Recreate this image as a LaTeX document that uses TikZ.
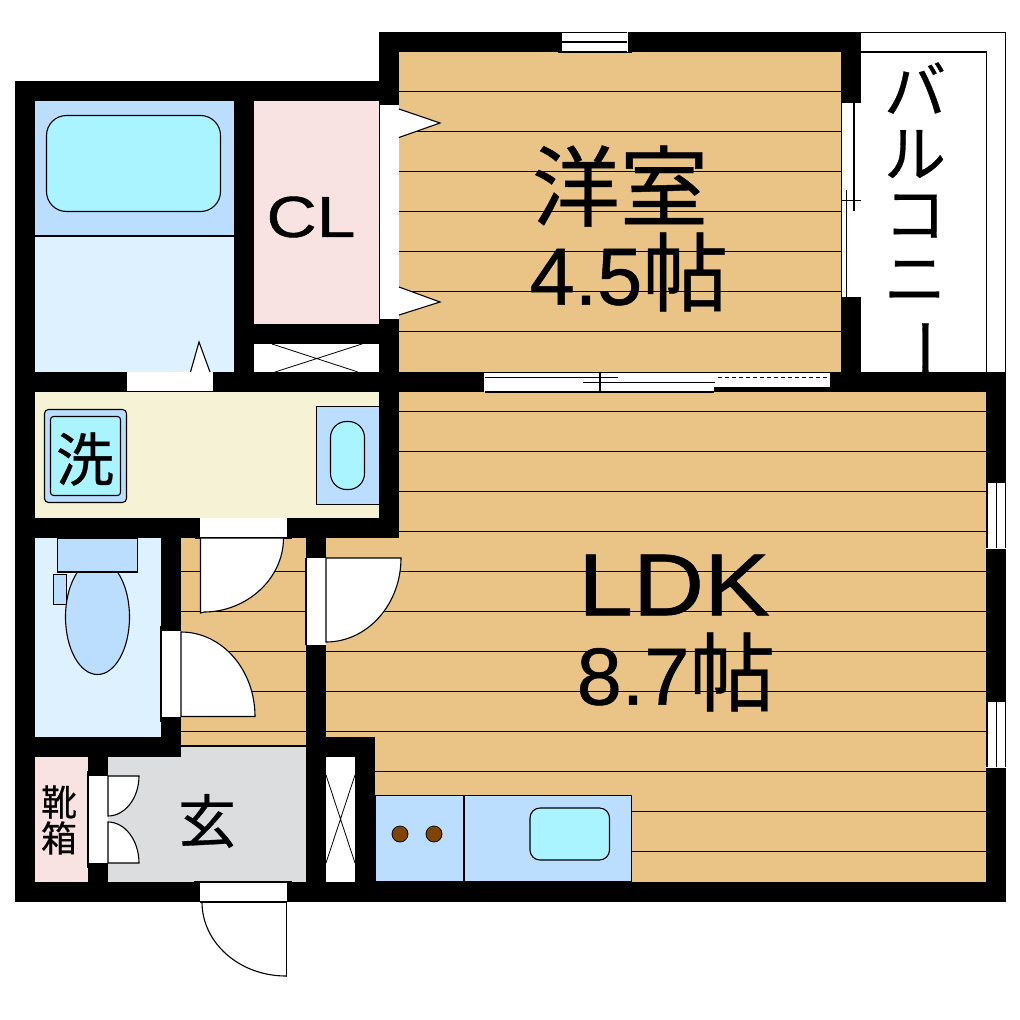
\documentclass[tikz,border=0pt]{standalone}
\usepackage{fontspec}
\setmainfont[FakeBold=0.7]{Liberation Sans}
\newfontfamily\jpfont[FakeBold=0.5]{Noto Sans CJK JP}
\definecolor{floorc}{HTML}{EAC387}
\definecolor{bluea}{HTML}{BBDEFF}
\definecolor{blueb}{HTML}{DDF1FF}
\definecolor{cyanc}{HTML}{AAF4FF}
\definecolor{pinkc}{HTML}{F8E2E2}
\definecolor{creamc}{HTML}{F5F2D6}
\definecolor{greyc}{HTML}{DCDDDF}
\definecolor{brownc}{HTML}{7F4500}
\tikzset{
  wall/.style={fill=black,draw=none},
  thin line/.style={draw=black,line width=1.1pt},
  opening/.style={fill=white,draw=none},
  doorleaf/.style={fill=white,draw=black,line width=1.1pt},
  fixture/.style={fill=bluea,draw=black,line width=1.1pt},
  basin/.style={fill=cyanc,draw=black,line width=1.1pt},
  lbl/.style={inner sep=0pt,outer sep=0pt,text=black},
}
\newcommand{\jlabel}[4]{\node[lbl,font=\jpfont\fontsize{#3}{#3}\selectfont] (#1) at (#2) {#4};}
\begin{document}
\begin{tikzpicture}[x=1pt,y=-1pt]
\useasboundingbox (0,0) rectangle (1020,1020);
% floors
\fill[floorc] (399,52) rectangle (841,372);
\fill[floorc] (399,392) rectangle (986,538);
\fill[floorc] (326,538) rectangle (986,882);
\fill[floorc] (181,538) rectangle (306,746);
\foreach \y in {91.5,131.5,171.5,211.5,251.5,291.5,331.5}
  \draw[thin line] (399,\y) -- (841,\y);
\foreach \y in {411.5,451.5,491.5,531.5}
  \draw[thin line] (399,\y) -- (986,\y);
\foreach \y in {571.5,611.5,651.5,691.5,731.5}{
  \draw[thin line] (326,\y) -- (986,\y);
  \draw[thin line] (181,\y) -- (306,\y);}
\draw[thin line] (375,771.5) -- (986,771.5);
\draw[thin line] (632,811.5) -- (986,811.5);
\draw[thin line] (632,851.5) -- (986,851.5);
% rooms
\fill[bluea] (35,101) rectangle (234,236);
\fill[blueb] (35,236) rectangle (234,372);
\draw[thin line] (35,236) -- (234,236);
\fill[pinkc] (254,101) rectangle (379,324);
\fill[white] (254,344) rectangle (379,372);
\fill[creamc] (35,392) rectangle (379,518);
\fill[blueb] (35,538) rectangle (161,737);
\fill[greyc] (108,746) rectangle (306,882);
\fill[pinkc] (35,757) rectangle (88,883);
\fill[white] (326,757) rectangle (355,882);
% walls
\fill[wall] (379,32) rectangle (861,52);
\fill[wall] (379,32) rectangle (399,105);
\fill[wall] (841,32) rectangle (861,392);
\fill[wall] (15,81) rectangle (399,101);
\fill[wall] (15,81) rectangle (35,902);
\fill[wall] (234,81) rectangle (254,392);
\fill[wall] (254,324) rectangle (399,344);
\fill[wall] (379,319) rectangle (399,538);
\fill[wall] (15,372) rectangle (1006,392);
\fill[wall] (986,372) rectangle (1006,902);
\fill[wall] (15,518) rectangle (399,538);
\fill[wall] (161,538) rectangle (181,757);
\fill[wall] (15,737) rectangle (181,757);
\fill[wall] (88,757) rectangle (108,882);
\fill[wall] (306,538) rectangle (326,882);
\fill[wall] (306,737) rectangle (375,757);
\fill[wall] (355,737) rectangle (375,882);
\fill[wall] (15,882) rectangle (1006,902);
% closet doors
\fill[opening] (380,105) rectangle (399,319);
\draw[thin line] (379.5,105) -- (379.5,319);
\draw[doorleaf] (399,109) -- (440,123) -- (399,137.5);
\draw[doorleaf] (399,287) -- (440,302) -- (399,315);
% top window
\fill[opening] (562,32) rectangle (628,52);
\draw[thin line] (562,32.5) -- (628,32.5) (562,42) -- (628,42) (558,52) -- (632,52);
\draw[white,line width=1pt] (627.5,32) -- (627.5,52);
% balcony window
\fill[opening] (841,103) rectangle (861,297);
\draw[thin line] (841.5,103) -- (841.5,297);
\draw[thin line] (854,103) -- (854,211);
\draw[thin line] (846.5,190) -- (846.5,297);
\draw[thin line] (841,200.5) -- (861,200.5);
% balcony
\draw[thin line] (861,32.5) -- (1005.5,32.5) -- (1005.5,372);
\draw[thin line] (861,52) -- (986.5,52) -- (986.5,372);
% sliding door
\fill[opening] (484,372.5) rectangle (830,387);
\fill[opening] (484,372.5) rectangle (714,392);
\draw[thin line] (485,377.5) -- (618,377.5);
\draw[thin line] (583,382.5) -- (715,382.5);
\draw[thin line] (600,372) -- (600,392);
\draw[thin line,dash pattern=on 4pt off 3pt] (718,377.5) -- (830,377.5);
\draw[thin line] (485,392) -- (714,392);
% east windows
\foreach \a/\b in {483/548,702/767}{
  \fill[opening] (986,\a) rectangle (1006,\b);
  \draw[thin line] (987,\a) -- (987,\b) (996.5,\a) -- (996.5,\b) (1005.5,\a) -- (1005.5,\b);
  \draw[white,line width=1pt] (986,\b) -- (1006,\b);
}
% bath
\draw[basin,rounded corners=20pt] (46.5,115.5) rectangle (220.5,211.5);
\fill[opening] (127,372) rectangle (213,392);
\draw[thin line] (121,391.7) -- (220,391.7);
\draw[doorleaf] (190.5,372) -- (199,342) -- (210,372);
% X closet
\draw[line width=.8pt] (272,344) -- (358,372) (362,344) -- (275,372);
% wash room
\draw[fixture,rounded corners=4pt] (44.5,409.5) rectangle (126.5,502.5);
\draw[basin,rounded corners=3pt] (50.5,416.5) rectangle (120.5,495.5);
\fill[bluea] (316.5,406.5) rectangle (379,504.5);
\draw[thin line] (379,406.5) -- (316.5,406.5) -- (316.5,504.5) -- (379,504.5);
\draw[basin,rounded corners=16pt] (330.5,421.5) rectangle (364.5,489.5);
% wash door
\fill[opening] (200,518) rectangle (287,538);
\draw[thin line] (195,538) -- (292,538);
\draw[doorleaf] (200.5,613) -- (200.5,538) -- (283.5,538) .. controls (283.5,579) and (246.3,612) .. (204,612) -- cycle;
% toilet
\draw[fixture] (97.5,617) ellipse[x radius=32,y radius=57.5];
\draw[fixture] (57.5,538) rectangle (137.5,572);
\draw[fixture] (53.5,574.5) rectangle (66.5,604.5);
% toilet door
\fill[opening] (161,631) rectangle (181,717);
\draw[thin line] (161,626) -- (161,722);
\draw[doorleaf] (181,716.5) -- (181,632) .. controls (222,632) and (255,669.8) .. (255,716.5) -- cycle;
% LDK door
\fill[opening] (306,558) rectangle (326,645);
\draw[thin line] (306,558) -- (306,645);
\draw[doorleaf] (326,558) -- (401,558) .. controls (401,604.4) and (367.4,642) .. (326,642) -- cycle;
% genkan
\draw[thin line] (181,746) -- (306,746);
\fill[opening] (88,776) rectangle (108,863);
\draw[thin line] (88,771) -- (88,868);
\draw[doorleaf] (108,776) -- (139,776) .. controls (139,798) and (125,816) .. (108,816) -- cycle;
\draw[doorleaf] (108,863) -- (139,863) .. controls (139,840.4) and (125,822) .. (108,822) -- cycle;
% X cupboard
\draw[line width=.8pt] (326,775) -- (355,863) (355,775) -- (326,863);
% kitchen
\draw[fixture] (375,795.5) rectangle (631.5,882);
\draw[thin line] (464,795.5) -- (464,882);
\draw[basin,rounded corners=10pt] (530,808) rectangle (609.5,860);
\foreach \x in {400,434}
  \draw[fill=brownc,draw=black,line width=.8pt] (\x,834) circle[radius=8];
% entry door
\fill[opening] (200,882) rectangle (287,902);
\draw[thin line] (194,882) -- (292,882);
\draw[thin line] (200,902) -- (287,902);
\draw[thin line] (286.5,902) -- (286.5,977);
\draw[thin line] (202,902) .. controls (202,943) and (239.6,976) .. (286,976);
% labels
\jlabel{yoshitsu}{620,186}{88}{洋室}
\node[lbl,font=\fontsize{81}{81}\selectfont] (yo) at (629,272) {4.5{\jpfont\fontsize{86}{86}\selectfont 帖}};
\node[lbl,font=\fontsize{88}{88}\selectfont] (ldk) at (674,585) {\scalebox{1.12}[1]{LDK}};
\node[lbl,font=\fontsize{81}{81}\selectfont] (ldkb) at (676,672) {8.7{\jpfont\fontsize{86}{86}\selectfont 帖}};
\node[lbl,font=\fontsize{58}{58}\selectfont] (cl) at (311,217) {\scalebox{1.2}[1]{CL}};
\jlabel{sen}{85,459}{58}{洗}
\jlabel{gen}{207,821}{58}{玄}
\jlabel{kutsu}{59,802}{36}{靴}
\jlabel{hako}{59,838}{36}{箱}
\jlabel{b1}{915,88}{62}{バ}
\jlabel{b2}{915,154}{62}{ル}
\jlabel{b3}{915,216}{62}{コ}
\jlabel{b4}{915,281}{62}{ニ}
\node[lbl,rotate=-90,font=\jpfont\fontsize{62}{62}\selectfont] (b5) at (915,348) {ー};
\end{tikzpicture}
\end{document}
